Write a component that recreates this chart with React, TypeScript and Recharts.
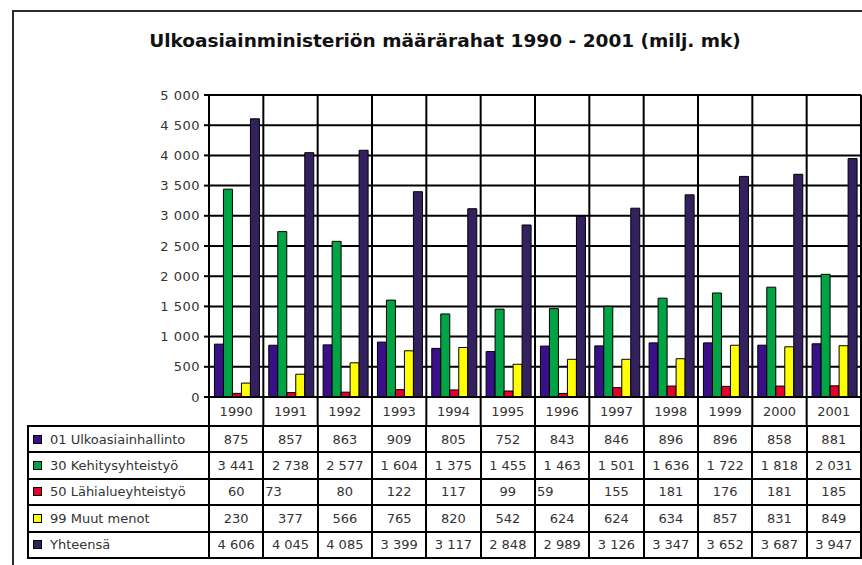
import React from "react";
import { Bar, BarChart, CartesianGrid, XAxis, YAxis } from "recharts";

const YEARS = ["1990", "1991", "1992", "1993", "1994", "1995", "1996", "1997", "1998", "1999", "2000", "2001"];
const HALLINTO = [875, 857, 863, 909, 805, 752, 843, 846, 896, 896, 858, 881];
const KEHITYS = [3441, 2738, 2577, 1604, 1375, 1455, 1463, 1501, 1636, 1722, 1818, 2031];
const LAHIALUE = [60, 73, 80, 122, 117, 99, 59, 155, 181, 176, 181, 185];
const MUUT = [230, 377, 566, 765, 820, 542, 624, 624, 634, 857, 831, 849];
const YHTEENSA = [4606, 4045, 4085, 3399, 3117, 2848, 2989, 3126, 3347, 3652, 3687, 3947];
const Y_TICKS = [0, 500, 1000, 1500, 2000, 2500, 3000, 3500, 4000, 4500, 5000];

const SERIES = [
  { key: "hallinto", name: "01 Ulkoasiainhallinto", values: HALLINTO, color: "#3a1088" },
  { key: "kehitys", name: "30 Kehitysyhteistyö", values: KEHITYS, color: "#00a444" },
  { key: "lahialue", name: "50 Lähialueyhteistyö", values: LAHIALUE, color: "#e4002c" },
  { key: "muut", name: "99 Muut menot", values: MUUT, color: "#ffff00" },
  { key: "yhteensa", name: "Yhteensä", values: YHTEENSA, color: "#33205e" },
];

// cells that spill to the left edge in the original table
const LEFT_CELLS = new Set(["2-1", "2-6"]);

const PLOT_LEFT = 209;
const PLOT_RIGHT = 861;
const PLOT_TOP = 95;
const PLOT_BOTTOM = 397;
const AXIS_H = 29;
const CHART_W = 862;
const CHART_H = PLOT_BOTTOM + AXIS_H;
const BAND = (PLOT_RIGHT - PLOT_LEFT) / YEARS.length;
const ROW_H = 26.4;
const FONT = "'DejaVu Sans', Arial, sans-serif";
const TEXT = "#333";

const data = YEARS.map((year, i) => {
  const row: Record<string, string | number> = { year };
  SERIES.forEach((s) => (row[s.key] = s.values[i]));
  return row;
});

const fmt = (v: number) =>
  v >= 1000 ? `${Math.floor(v / 1000)} ${String(v % 1000).padStart(3, "0")}` : String(v);

function YearTick(props: any) {
  const { x, payload, index } = props;
  const left = x - BAND / 2;
  return (
    <g>
      <line x1={left} x2={left} y1={PLOT_TOP} y2={CHART_H} stroke="#000" strokeWidth={2} />
      {index === YEARS.length - 1 && (
        <line x1={left + BAND} x2={left + BAND} y1={PLOT_TOP} y2={CHART_H} stroke="#000" strokeWidth={2} />
      )}
      <text x={x} y={PLOT_BOTTOM + 19} textAnchor="middle" fontSize={13} fill={TEXT} fontFamily={FONT}>
        {payload.value}
      </text>
    </g>
  );
}

export default function App() {
  return (
    <div
      style={{
        position: "absolute",
        left: 0,
        top: 0,
        width: 862,
        height: 565,
        overflow: "hidden",
        background: "#fff",
        fontFamily: FONT,
      }}
    >
      <div
        style={{
          position: "absolute",
          left: 12,
          top: 10,
          width: 900,
          height: 600,
          border: "2px solid #2a2a2a",
        }}
      />
      <div
        style={{
          position: "absolute",
          left: 0,
          top: 30,
          width: 890,
          textAlign: "center",
          fontSize: 18.5,
          lineHeight: "22px",
          fontWeight: "bold",
          color: "#111",
        }}
      >
        Ulkoasiainministeriön määrärahat 1990 - 2001 (milj. mk)
      </div>

      <div style={{ position: "absolute", left: 0, top: 0 }}>
        <BarChart
          width={CHART_W}
          height={CHART_H}
          data={data}
          margin={{ top: PLOT_TOP, right: CHART_W - PLOT_RIGHT, bottom: 0, left: 0 }}
          barCategoryGap="10%"
          barGap={0}
        >
          <CartesianGrid vertical={false} stroke="#000" strokeWidth={2} />
          <XAxis
            dataKey="year"
            height={AXIS_H}
            interval={0}
            tickLine={false}
            axisLine={{ stroke: "#000", strokeWidth: 2 }}
            tick={<YearTick />}
          />
          <YAxis
            width={PLOT_LEFT}
            domain={[0, 5000]}
            ticks={Y_TICKS}
            interval={0}
            tickFormatter={fmt}
            tickSize={5}
            tickMargin={4}
            tickLine={{ stroke: "#000", strokeWidth: 2 }}
            axisLine={{ stroke: "#000", strokeWidth: 2 }}
            tick={{ fontSize: 13, fill: TEXT, fontFamily: FONT, letterSpacing: 0.5 }}
          />
          {SERIES.map((s) => (
            <Bar
              key={s.key}
              dataKey={s.key}
              name={s.name}
              fill={s.color}
              stroke="#000"
              strokeWidth={1}
              isAnimationActive={false}
            />
          ))}
        </BarChart>
      </div>

      <div
        style={{
          position: "absolute",
          left: 27,
          top: CHART_H - 1,
          display: "grid",
          gridTemplateColumns: `${PLOT_LEFT + 1 - 27 - 2}px repeat(${YEARS.length}, ${BAND}px)`,
          gridAutoRows: `${ROW_H}px`,
          borderLeft: "2px solid #000",
          borderTop: "2px solid #000",
          fontSize: 13,
          color: TEXT,
        }}
      >
        {SERIES.map((s, r) => (
          <React.Fragment key={s.key}>
            <div
              style={{
                boxSizing: "border-box",
                borderRight: "2px solid #000",
                borderBottom: "2px solid #000",
                display: "flex",
                alignItems: "center",
                paddingLeft: 4,
                whiteSpace: "nowrap",
              }}
            >
              <span
                style={{
                  display: "inline-block",
                  width: 7,
                  height: 7,
                  background: s.color,
                  border: "1px solid #000",
                  marginRight: 8,
                }}
              />
              {s.name}
            </div>
            {s.values.map((v, c) => (
              <div
                key={c}
                style={{
                  boxSizing: "border-box",
                  borderRight: "2px solid #000",
                  borderBottom: "2px solid #000",
                  display: "flex",
                  alignItems: "center",
                  justifyContent: LEFT_CELLS.has(`${r}-${c}`) ? "flex-start" : "center",
                  paddingLeft: LEFT_CELLS.has(`${r}-${c}`) ? 1 : 0,
                  whiteSpace: "nowrap",
                }}
              >
                {fmt(v)}
              </div>
            ))}
          </React.Fragment>
        ))}
      </div>
    </div>
  );
}
